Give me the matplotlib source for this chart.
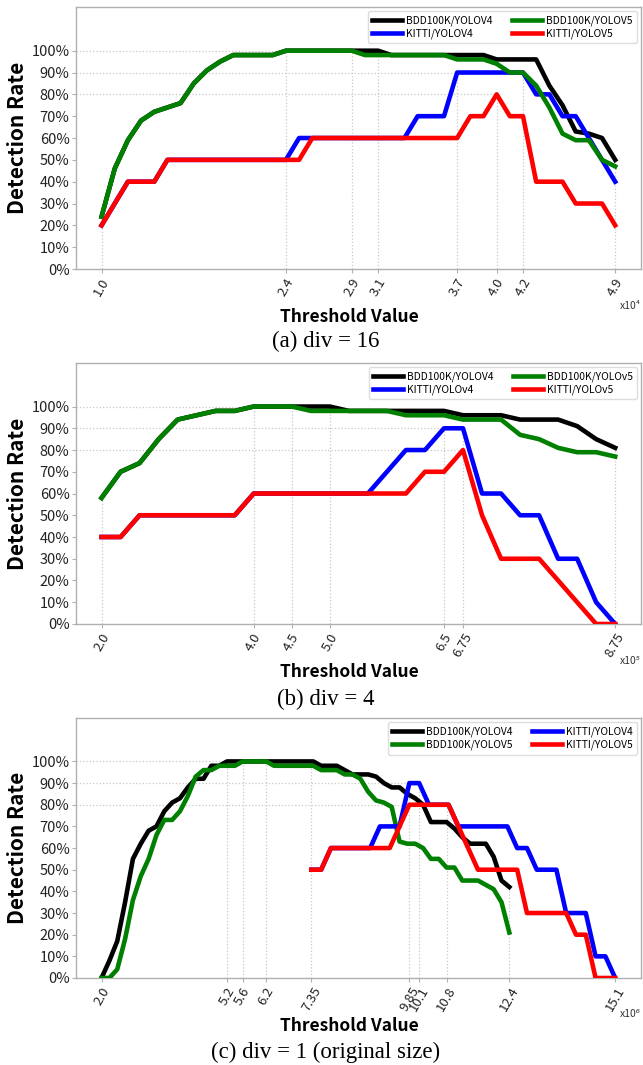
import numpy as np
import matplotlib.pyplot as plt

plt.rcParams['font.family'] = ['Noto Sans CJK KR', 'DejaVu Sans']

# ------------------------------------------------------------------
# (a) div = 16   (threshold x 1e4)
# ------------------------------------------------------------------
x_a = [1.0, 1.1, 1.2, 1.3, 1.4, 1.5, 1.6, 1.7, 1.8, 1.9,
       2.0, 2.1, 2.2, 2.3, 2.4, 2.5, 2.6, 2.7, 2.8, 2.9,
       3.0, 3.1, 3.2, 3.3, 3.4, 3.5, 3.6, 3.7, 3.8, 3.9,
       4.0, 4.1, 4.2, 4.3, 4.4, 4.5, 4.6, 4.7, 4.8, 4.9]
bdd_v4_a = [24, 46, 59, 68, 72, 74, 76, 85, 91, 95,
            98, 98, 98, 98, 100, 100, 100, 100, 100, 100,
            100, 100, 98, 98, 98, 98, 98, 98, 98, 98,
            96, 96, 96, 96, 84, 75, 63, 62, 60, 50]
kitti_v4_a = [20, 30, 40, 40, 40, 50, 50, 50, 50, 50,
              50, 50, 50, 50, 50, 60, 60, 60, 60, 60,
              60, 60, 60, 60, 70, 70, 70, 90, 90, 90,
              90, 90, 90, 80, 80, 70, 70, 60, 50, 40]
bdd_v5_a = [24, 46, 59, 68, 72, 74, 76, 85, 91, 95,
            98, 98, 98, 98, 100, 100, 100, 100, 100, 100,
            98, 98, 98, 98, 98, 98, 98, 96, 96, 96,
            94, 90, 90, 84, 74, 62, 59, 59, 50, 47]
kitti_v5_a = [20, 30, 40, 40, 40, 50, 50, 50, 50, 50,
              50, 50, 50, 50, 50, 50, 60, 60, 60, 60,
              60, 60, 60, 60, 60, 60, 60, 60, 70, 70,
              80, 70, 70, 40, 40, 40, 30, 30, 30, 20]
ticks_a = [1.0, 2.4, 2.9, 3.1, 3.7, 4.0, 4.2, 4.9]
tick_labels_a = ['1.0', '2.4', '2.9', '3.1', '3.7', '4.0', '4.2', '4.9']
guide_top_a = [24, 100, 100, 100, 90, 80, 90, 50]
hguide_a = [100, 90, 80]
hguide_end_a = [3.1, 4.2, 4.0]

# ------------------------------------------------------------------
# (b) div = 4   (threshold x 1e5)
# ------------------------------------------------------------------
x_b = [2.0, 2.25, 2.5, 2.75, 3.0, 3.25, 3.5, 3.75,
       4.0, 4.25, 4.5, 4.75, 5.0, 5.25, 5.5, 5.75,
       6.0, 6.25, 6.5, 6.75, 7.0, 7.25, 7.5, 7.75,
       8.0, 8.25, 8.5, 8.75]
bdd_v4_b = [58, 70, 74, 85, 94, 96, 98, 98,
            100, 100, 100, 100, 100, 98, 98, 98,
            98, 98, 98, 96, 96, 96, 94, 94,
            94, 91, 85, 81]
kitti_v4_b = [40, 40, 50, 50, 50, 50, 50, 50,
              60, 60, 60, 60, 60, 60, 60, 70,
              80, 80, 90, 90, 60, 60, 50, 50,
              30, 30, 10, 0]
bdd_v5_b = [58, 70, 74, 85, 94, 96, 98, 98,
            100, 100, 100, 98, 98, 98, 98, 98,
            96, 96, 96, 94, 94, 94, 87, 85,
            81, 79, 79, 77]
kitti_v5_b = [40, 40, 50, 50, 50, 50, 50, 50,
              60, 60, 60, 60, 60, 60, 60, 60,
              60, 70, 70, 80, 50, 30, 30, 30,
              20, 10, 0, 0]
ticks_b = [2.0, 4.0, 4.5, 5.0, 6.5, 6.75, 8.75]
tick_labels_b = ['2.0', '4.0', '4.5', '5.0', '6.5', '6.75', '8.75']
guide_top_b = [58, 100, 100, 100, 90, 90, 81]
hguide_b = [100, 90, 80]
hguide_end_b = [5.0, 6.75, 6.75]

# ------------------------------------------------------------------
# (c) div = 1, original size   (threshold x 1e6)
# ------------------------------------------------------------------
x_bdd_c = [2.0, 2.2, 2.4, 2.6, 2.8, 3.0, 3.2, 3.4, 3.6, 3.8,
           4.0, 4.2, 4.4, 4.6, 4.8, 5.0, 5.2, 5.4, 5.6, 5.8,
           6.0, 6.2, 6.4, 6.6, 6.8, 7.0, 7.2, 7.4, 7.6, 7.8,
           8.0, 8.2, 8.4, 8.6, 8.8, 9.0, 9.2, 9.4, 9.6, 9.8,
           10.0, 10.2, 10.4, 10.6, 10.8, 11.0, 11.2, 11.4, 11.6, 11.8,
           12.0, 12.2, 12.4]
bdd_v4_c = [0, 8, 17, 35, 55, 62, 68, 70, 77, 81,
            83, 88, 92, 92, 98, 98, 100, 100, 100, 100,
            100, 100, 100, 100, 100, 100, 100, 100, 98, 98,
            98, 96, 94, 94, 94, 93, 90, 88, 88, 85,
            83, 80, 72, 72, 72, 69, 65, 62, 62, 62,
            56, 45, 42]
bdd_v5_c = [0, 0, 4, 18, 36, 47, 55, 66, 73, 73,
            77, 84, 93, 96, 96, 98, 98, 98, 100, 100,
            100, 100, 98, 98, 98, 98, 98, 98, 96, 96,
            96, 94, 94, 92, 86, 82, 81, 79, 63, 62,
            62, 60, 55, 55, 51, 51, 45, 45, 45, 43,
            41, 35, 21]
x_kitti_c = [7.35, 7.6, 7.85, 8.1, 8.35, 8.6, 8.85, 9.1,
             9.35, 9.6, 9.85, 10.1, 10.35, 10.6, 10.85, 11.1,
             11.35, 11.6, 11.85, 12.1, 12.35, 12.6, 12.85, 13.1,
             13.35, 13.6, 13.85, 14.1, 14.35, 14.6, 14.85, 15.1]
kitti_v4_c = [50, 50, 60, 60, 60, 60, 60, 70,
              70, 70, 90, 90, 80, 80, 80, 70,
              70, 70, 70, 70, 70, 60, 60, 50,
              50, 50, 30, 30, 30, 10, 10, 0]
kitti_v5_c = [50, 50, 60, 60, 60, 60, 60, 60,
              60, 70, 80, 80, 80, 80, 80, 70,
              60, 50, 50, 50, 50, 50, 30, 30,
              30, 30, 30, 20, 20, 0, 0, 0]
ticks_c = [2.0, 5.2, 5.6, 6.2, 7.35, 9.85, 10.1, 10.8, 12.4, 15.1]
tick_labels_c = ['2.0', '5.2', '5.6', '6.2', '7.35', '9.85', '10.1', '10.8', '12.4', '15.1']
guide_top_c = [0, 100, 100, 100, 100, 90, 90, 80, 42, 0]
hguide_c = [100, 90, 80]
hguide_end_c = [7.35, 10.1, 10.8]

yticks = [0, 10, 20, 30, 40, 50, 60, 70, 80, 90, 100]
ytick_labels = ['%d%%' % v for v in yticks]

LW = 3.3
SPINE = '#b0b0b0'
GUIDE = '#c8c8c8'


def style_axes(ax, ticks, tick_labels, guide_top, hguide, hguide_end, exponent):
    ax.set_ylim(0, 120)
    ax.set_yticks(yticks)
    ax.set_yticklabels(ytick_labels, fontsize=10.5)
    ax.set_xticks(ticks)
    ax.set_xticklabels(tick_labels, rotation=60, fontsize=9.5)
    ax.tick_params(axis='both', colors=SPINE, labelcolor='#222222', length=3, width=0.8)
    ax.tick_params(axis='y', pad=1.5)
    ax.tick_params(axis='x', pad=2)
    for s in ax.spines.values():
        s.set_color(SPINE)
        s.set_linewidth(1.0)

    # dotted guide lines
    xlo, xhi = ax.get_xlim()
    ax.vlines(ticks, 0, guide_top, colors=GUIDE, linestyles=':', linewidth=0.9, zorder=1)
    ax.hlines(hguide, xlo, hguide_end, colors=GUIDE, linestyles=':', linewidth=0.9, zorder=1)
    ax.set_xlim(xlo, xhi)

    ax.text(-0.104, 0.5, 'Detection Rate', transform=ax.transAxes, rotation=90,
            ha='center', va='center', fontsize=15, fontweight='bold')
    ax.text(0.484, -0.183, 'Threshold Value', transform=ax.transAxes,
            ha='center', va='center', fontsize=12.5, fontweight='bold')
    ax.text(1.0, -0.14, 'x10' + exponent, transform=ax.transAxes,
            ha='right', va='center', fontsize=7.5, style='italic', color='#333333')


def add_legend(ax, order):
    h, l = ax.get_legend_handles_labels()
    ax.legend([h[i] for i in order], [l[i] for i in order], ncol=2, loc='upper right',
              fontsize=7.4, handlelength=2.9, borderaxespad=0.4, columnspacing=1.9,
              labelspacing=0.3, framealpha=1.0, edgecolor='#dddddd', handletextpad=0.4)


fig = plt.figure(figsize=(6.43, 10.65), dpi=100)

# ---- panel (a)
ax = fig.add_axes([0.118, 0.7474, 0.8787, 0.246])
ax.plot(x_a, bdd_v4_a, color='black', lw=LW, label='BDD100K/YOLOV4', zorder=3)
ax.plot(x_a, kitti_v4_a, color='blue', lw=LW, label='KITTI/YOLOV4', zorder=3)
ax.plot(x_a, bdd_v5_a, color='green', lw=LW, label='BDD100K/YOLOV5', zorder=3)
ax.plot(x_a, kitti_v5_a, color='red', lw=LW, label='KITTI/YOLOV5', zorder=3)
style_axes(ax, ticks_a, tick_labels_a, guide_top_a, hguide_a, hguide_end_a, '\u2074')
add_legend(ax, [0, 1, 2, 3])

# ---- panel (b)
ax = fig.add_axes([0.118, 0.4141, 0.8787, 0.245])
ax.plot(x_b, bdd_v4_b, color='black', lw=LW, label='BDD100K/YOLOV4', zorder=3)
ax.plot(x_b, kitti_v4_b, color='blue', lw=LW, label='KITTI/YOLOv4', zorder=3)
ax.plot(x_b, bdd_v5_b, color='green', lw=LW, label='BDD100K/YOLOv5', zorder=3)
ax.plot(x_b, kitti_v5_b, color='red', lw=LW, label='KITTI/YOLOv5', zorder=3)
style_axes(ax, ticks_b, tick_labels_b, guide_top_b, hguide_b, hguide_end_b, '\u2075')
add_legend(ax, [0, 1, 2, 3])

# ---- panel (c)
ax = fig.add_axes([0.118, 0.0817, 0.8787, 0.244])
ax.plot(x_bdd_c, bdd_v4_c, color='black', lw=LW, label='BDD100K/YOLOV4', zorder=3)
ax.plot(x_bdd_c, bdd_v5_c, color='green', lw=LW, label='BDD100K/YOLOV5', zorder=3)
ax.plot(x_kitti_c, kitti_v4_c, color='blue', lw=LW, label='KITTI/YOLOV4', zorder=3)
ax.plot(x_kitti_c, kitti_v5_c, color='red', lw=LW, label='KITTI/YOLOV5', zorder=3)
style_axes(ax, ticks_c, tick_labels_c, guide_top_c, hguide_c, hguide_end_c, '\u2076')
add_legend(ax, [0, 1, 2, 3])

# ---- captions
cap_font = ['Liberation Serif', 'DejaVu Serif']
fig.text(0.507, 1 - 341 / 1065, '(a) div = 16', ha='center', va='center', fontsize=16.5, family=cap_font)
fig.text(0.507, 1 - 699 / 1065, '(b) div = 4', ha='center', va='center', fontsize=16.5, family=cap_font)
fig.text(0.507, 1 - 1052 / 1065, '(c) div = 1 (original size)', ha='center', va='center',
         fontsize=16.5, family=cap_font)

plt.savefig('out.png', dpi=100)
